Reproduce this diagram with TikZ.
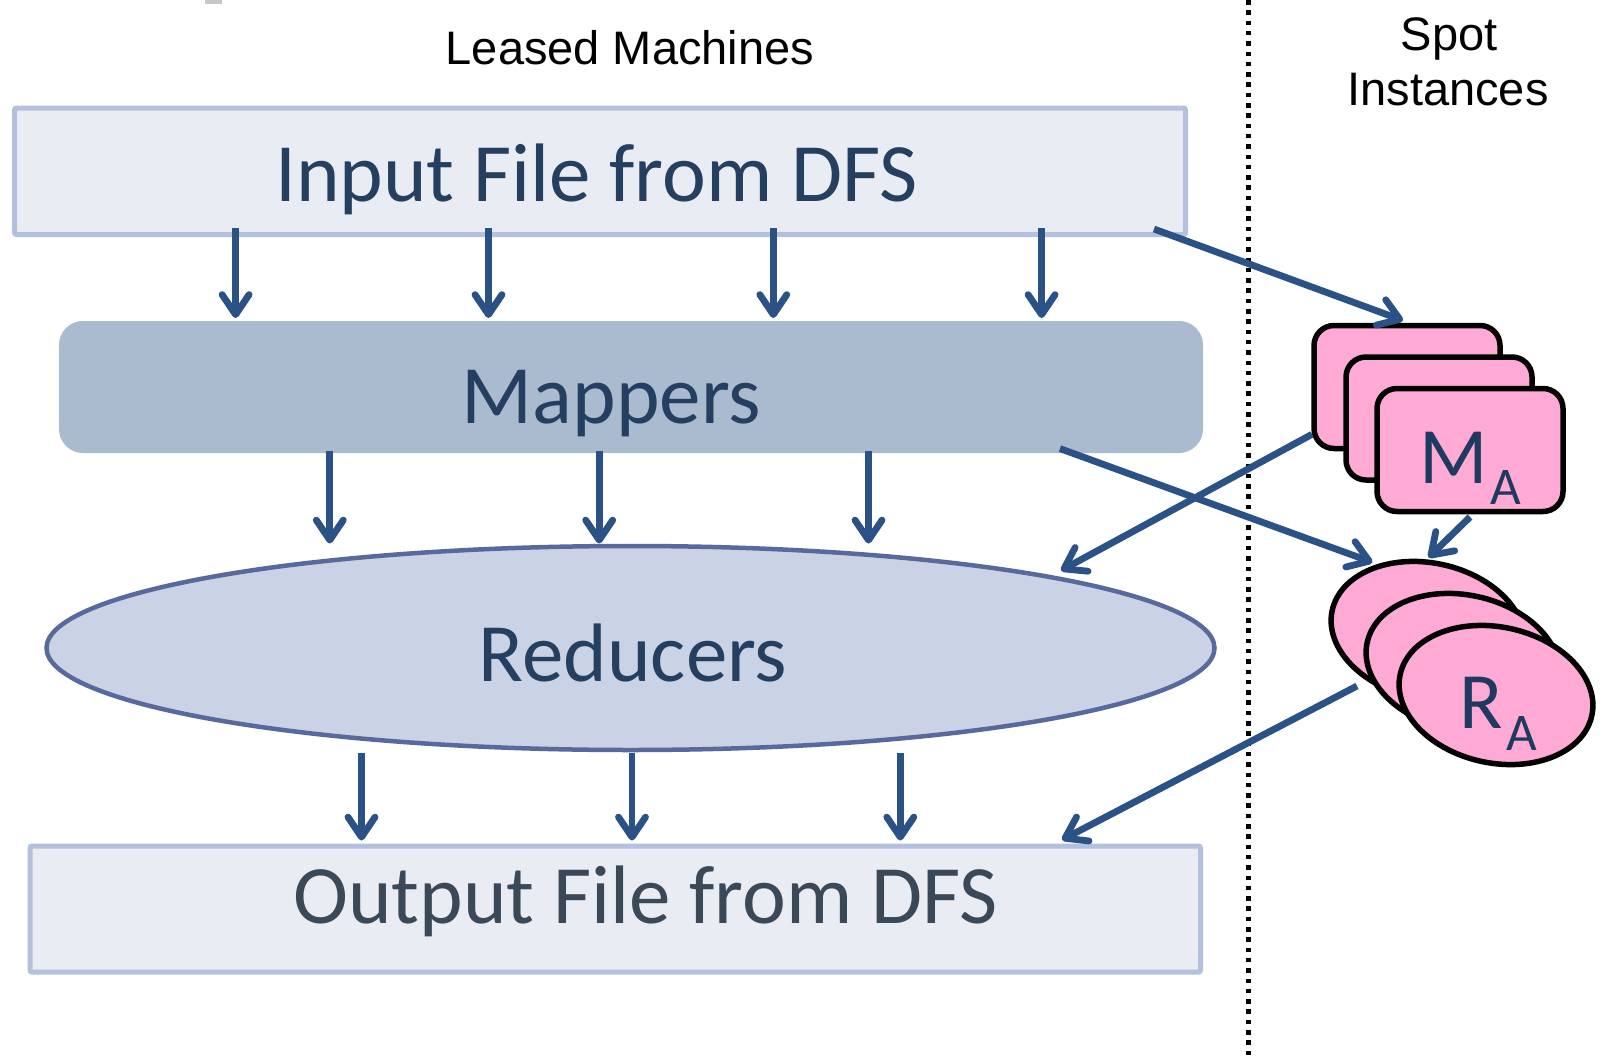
\documentclass[tikz,border=0pt]{standalone}
\usepackage{fontspec}
\setmainfont{Carlito}
\newfontfamily\arialfont{Liberation Sans}
\usetikzlibrary{arrows.meta,shapes.geometric}
\definecolor{filefill}{HTML}{E9EDF3}
\definecolor{fileedge}{HTML}{B3C1DE}
\definecolor{mapfill}{HTML}{AABACF}
\definecolor{redfill}{HTML}{C9D3E5}
\definecolor{rededge}{HTML}{58699D}
\definecolor{flow}{HTML}{2B5286}
\definecolor{inktext}{HTML}{243F60}
\definecolor{outtext}{HTML}{3A4858}
\definecolor{spotpink}{HTML}{FFAAD4}
\definecolor{spotink}{HTML}{1F3A60}
\begin{document}
\begin{tikzpicture}[x=1pt,y=-1pt,
  every node/.style={outer sep=0pt, inner sep=0pt},
  filebox/.style={draw=fileedge, fill=filefill, line width=5pt, rounded corners=2pt,
    minimum width=1171pt, minimum height=126.5pt},
  mapbox/.style={fill=mapfill, rounded corners=24pt, minimum width=1144pt, minimum height=132pt},
  redshape/.style={ellipse, draw=rededge, fill=redfill, line width=4.5pt,
    minimum width=1168pt, minimum height=204pt},
  spotbox/.style={draw=black, fill=spotpink, line width=5.5pt, rounded corners=20pt,
    minimum width=186pt, minimum height=123pt},
  spotoval/.style={ellipse, draw=black, fill=spotpink, line width=5.5pt,
    minimum width=196pt, minimum height=136pt, rotate=-12},
  bigtext/.style={font=\fontsize{83}{83}\selectfont, anchor=base},
  spottext/.style={font=\fontsize{80}{80}\selectfont, text=spotink, anchor=base west},
  headtext/.style={font=\arialfont\fontsize{47}{47}\selectfont, anchor=base, text=black},
  flowarrow/.style={draw=flow, line width=6.8pt,
    -{Straight Barb[length=20pt,width=27pt,round]}},
]
\path[use as bounding box, fill=white] (0,0) rectangle (1606,1060);
\fill[black!22] (205,0) rectangle (222,4);

% divider between leased machines and spot instances
\draw[line width=5pt, dash pattern=on 4.5pt off 5.8pt] (1248,0) -- (1248,1060);

% headings
\node[headtext] (leased) at (630,64.5) {Leased Machines};
\node[headtext] (spot) at (1449,50) {Spot};
\node[headtext] (inst) at (1448,105.5) {Instances};

% MapReduce pipeline on leased machines
\node[filebox] (inp) at (600,171.25) {};
\node[mapbox] (map) at (631,387) {};
\node[redshape] (red) at (630.5,648) {};
\node[filebox, minimum width=1170.5pt, minimum height=126pt] (out) at (615.25,909) {};

\node[bigtext, text=inktext] (inptxt) at (596.5,201.8) {Input File from DFS};
\node[bigtext, text=inktext] (maptxt) at (611.5,423) {Mappers};
\node[bigtext, text=inktext] (redtxt) at (633,681) {Reducers};
\node[bigtext, text=outtext] (outtxt) at (645.5,923.8) {Output File from DFS};

% input -> mappers
\foreach \dx in {221.1,474,758.8,1027.1}
  \draw[flowarrow] ([xshift=\dx pt, yshift=6.5pt]inp.south west)
    -- ([xshift=\dx pt-44.5pt, yshift=3pt]map.north west);
% mappers -> reducers
\foreach \dx in {270.8,540.2,809.5}
  \draw[flowarrow] ([xshift=\dx pt, yshift=2.4pt]map.south west)
    -- ([xshift=\dx pt-571.5pt, yshift=104.5pt]red.center);
% reducers -> output
\foreach \dx in {331.5,602,870.3}
  \draw[flowarrow] ([xshift=\dx pt+30pt-630.5pt, yshift=-104.8pt]red.center)
    -- ([xshift=\dx pt, yshift=5.5pt]out.north west);

% spot instances
\node[spotbox] (ma1) at (1407,387) {};
\node[spotbox] (ma2) at (1439,418.5) {};
\node[spotbox] (ma3) at (1470,450) {};
\coordinate (rac) at (1428,631);

\draw[flowarrow] ([xshift=-31.5pt, yshift=5.5pt]inp.south east)
  -- ([xshift=-4pt, yshift=5pt]ma1.north);
\draw[flowarrow] ([xshift=-143pt, yshift=4.4pt]map.south east)
  -- ([xshift=-55.6pt, yshift=68.7pt]rac);
\draw[flowarrow] ([xshift=-2pt, yshift=-47.3pt]ma1.west)
  -- ([xshift=430.5pt, yshift=77.5pt]red.center);
\draw[flowarrow] ([yshift=-5.5pt]ma3.south)
  -- ([xshift=0.5pt, yshift=73.5pt]rac);
\draw[flowarrow] ([xshift=-71pt, yshift=-55pt]rac)
  -- ([xshift=-138.5pt, yshift=6.2pt]out.north east);

\node[spotoval] (ra1) at (rac) {};
\node[spotoval] (ra2) at (1463,663) {};
\node[spotoval] (ra3) at (1496,695) {};

\node[spottext] (matxt) at (1419,483.3)
  {M\kern3pt\raisebox{-21pt}{\fontsize{53}{53}\selectfont A}};
\node[spottext] (ratxt) at (1459,728.3)
  {R\kern4pt\raisebox{-22pt}{\fontsize{53}{53}\selectfont A}};
\end{tikzpicture}
\end{document}
